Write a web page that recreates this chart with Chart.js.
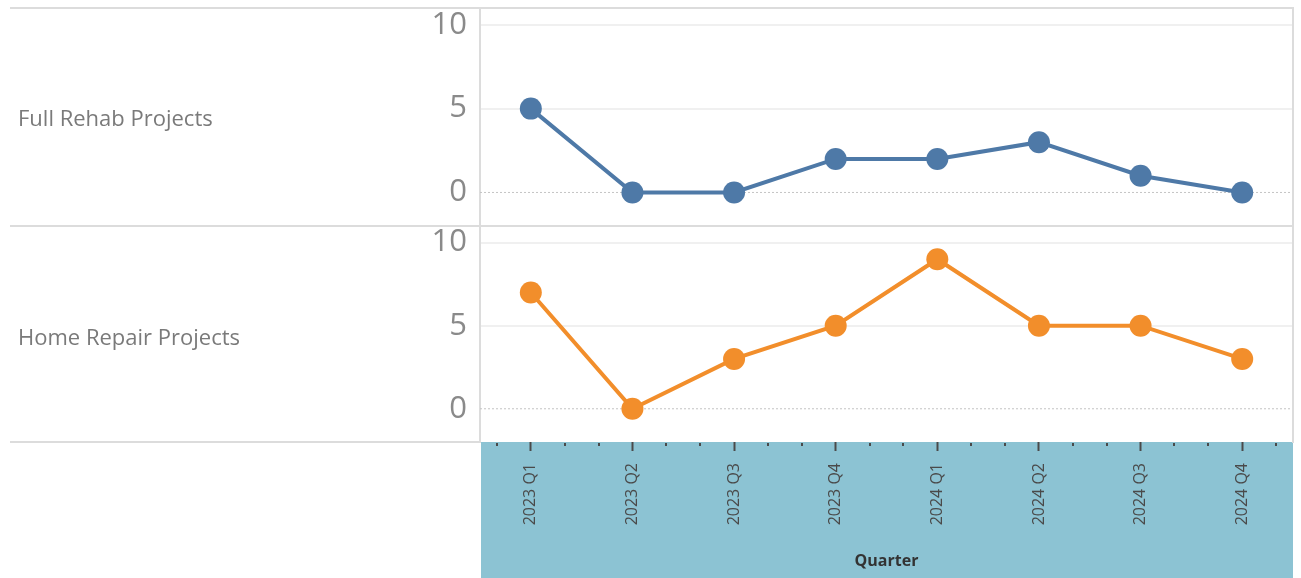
<!DOCTYPE html>
<html>
<head>
<meta charset="utf-8">
<script src="https://cdn.jsdelivr.net/npm/chart.js@4.4.0/dist/chart.umd.min.js"></script>
<style>
  body { margin: 0; background: #fff; font-family: "Open Sans", sans-serif; }
  #painel { position: relative; width: 1301px; height: 578px; overflow: hidden; }
  #painel canvas { position: absolute; left: 0; }
  .linha { position: absolute; background: #dcdcdc; }
  .rotulo { position: absolute; left: 18px; font-size: 22px; color: #7a7a7a; transform: translateY(-50%); }
</style>
</head>
<body>
<div id="painel">
  <canvas id="graficoRehab" width="1301" height="218" style="top:8px"></canvas>
  <canvas id="graficoRepair" width="1301" height="352" style="top:226px"></canvas>
  <div class="linha" style="left:10px; top:7px; width:1284px; height:2px"></div>
  <div class="linha" style="left:10px; top:225px; width:1284px; height:2px"></div>
  <div class="linha" style="left:10px; top:441px; width:471px; height:2px"></div>
  <div class="linha" style="left:1292px; top:7px; width:2px; height:436px"></div>
  <div class="rotulo" id="rotulo0" style="top:117px"></div>
  <div class="rotulo" id="rotulo1" style="top:336px"></div>
</div>

<script>
// Dados por trimestre
const quarters = ['2023 Q1', '2023 Q2', '2023 Q3', '2023 Q4', '2024 Q1', '2024 Q2', '2024 Q3', '2024 Q4'];
const fullRehab = [5, 0, 0, 2, 2, 3, 1, 0];
const homeRepair = [7, 0, 3, 5, 9, 5, 5, 3];
const rowLabels = ['Full Rehab Projects', 'Home Repair Projects'];
const yTicks = [0, 5, 10];
const xTitle = 'Quarter';

document.getElementById('rotulo0').textContent = rowLabels[0];
document.getElementById('rotulo1').textContent = rowLabels[1];

// Linha pontilhada no zero
const linhaZero = {
    id: 'linhaZero',
    beforeDatasetsDraw(chart) {
        const y = chart.scales.y.getPixelForValue(0);
        const { left, right } = chart.chartArea;
        const ctx = chart.ctx;
        ctx.save();
        ctx.strokeStyle = '#c4c4c4';
        ctx.lineWidth = 1;
        ctx.setLineDash([2, 2]);
        ctx.beginPath();
        ctx.moveTo(left, y);
        ctx.lineTo(right, y);
        ctx.stroke();
        ctx.restore();
    }
};

// Fundo azul do eixo X e marcas menores (meses)
const fundoEixo = {
    id: 'fundoEixo',
    beforeDraw(chart) {
        const { left, right, bottom } = chart.chartArea;
        const ctx = chart.ctx;
        ctx.save();
        ctx.fillStyle = '#8cc3d3';
        ctx.fillRect(left + 1, bottom, right - left - 1, chart.height - bottom);
        ctx.restore();
    },
    afterDraw(chart) {
        const x = chart.scales.x;
        const { bottom } = chart.chartArea;
        const p0 = x.getPixelForValue(0);
        const passo = (x.getPixelForValue(1) - p0) / 3;
        const ctx = chart.ctx;
        ctx.save();
        ctx.fillStyle = '#4a4a4a';
        for (let k = -1; k <= 3 * (quarters.length - 1) + 1; k++) {
            if (k % 3 === 0) continue;
            ctx.fillRect(Math.round(p0 + k * passo) - 1, bottom + 1, 2, 3);
        }
        ctx.restore();
    }
};

function criarGrafico(id, valores, cor, comEixoX) {
    const plugins = [linhaZero];
    if (comEixoX) plugins.push(fundoEixo);

    return new Chart(document.getElementById(id), {
        type: 'line',
        data: {
            labels: quarters,
            datasets: [{
                data: valores,
                borderColor: cor,
                backgroundColor: cor,
                borderWidth: 4,
                pointRadius: 11,
                pointHoverRadius: 11,
                pointBorderWidth: 0,
                tension: 0,
                clip: false
            }]
        },
        options: {
            responsive: false,
            animation: false,
            layout: { autoPadding: false, padding: { left: 0, right: 8, top: 0, bottom: 0 } },
            plugins: { legend: { display: false }, tooltip: { enabled: false } },
            scales: {
                x: {
                    display: comEixoX,
                    offset: true,
                    afterFit: scale => {
                        scale.height = comEixoX ? 136 : 0;
                        scale.paddingLeft = 0;
                        scale.paddingRight = 0;
                    },
                    grid: {
                        offset: false,
                        drawOnChartArea: false,
                        drawTicks: true,
                        tickLength: 9,
                        tickColor: '#4a4a4a',
                        tickWidth: 2
                    },
                    border: { display: false },
                    ticks: {
                        minRotation: 90,
                        maxRotation: 90,
                        color: '#4a4a4a',
                        font: { family: 'Open Sans', size: 16 },
                        padding: 12
                    },
                    title: {
                        display: true,
                        text: xTitle,
                        color: '#333',
                        font: { family: 'Open Sans', size: 16, weight: 'bold' },
                        padding: { top: 0, bottom: 7 }
                    }
                },
                y: {
                    min: -2,
                    max: 11,
                    afterBuildTicks: scale => { scale.ticks = yTicks.map(v => ({ value: v })); },
                    afterFit: scale => {
                        scale.width = 480;
                        scale.paddingTop = 0;
                        scale.paddingBottom = 0;
                    },
                    grid: {
                        color: ctx => (ctx.tick && ctx.tick.value === 0) ? 'rgba(0,0,0,0)' : '#f0f0f0',
                        lineWidth: 2,
                        drawTicks: false
                    },
                    border: { display: true, color: '#dcdcdc', width: 2 },
                    ticks: {
                        color: '#8a8a8a',
                        font: { family: 'Open Sans', size: 31 },
                        padding: 13
                    }
                }
            }
        },
        plugins: plugins
    });
}

criarGrafico('graficoRehab', fullRehab, '#4e79a7', false);
criarGrafico('graficoRepair', homeRepair, '#f28e2b', true);
</script>
</body>
</html>
